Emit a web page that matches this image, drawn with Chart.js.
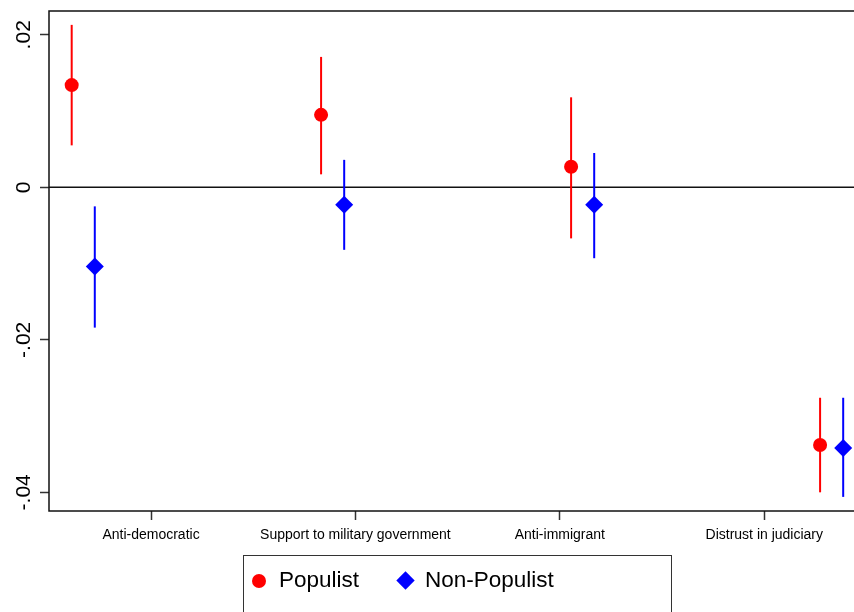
<!DOCTYPE html>
<html>
<head>
<meta charset="utf-8">
<script src="https://cdn.jsdelivr.net/npm/chart.js@4/dist/chart.umd.min.js"></script>
<style>
  html, body { margin: 0; padding: 0; background: #fff; }
  #wrap { position: relative; width: 854px; height: 612px; overflow: hidden; }
  #legend {
    position: absolute; left: 243px; top: 555px; width: 429px; height: 80px;
    border: 1.5px solid #333; box-sizing: border-box;
    font-family: "Liberation Sans", Arial, sans-serif; font-size: 22.5px; color: #000;
  }
  #legend span { position: absolute; top: 11px; }
  .dot { position: absolute; top: 18px; left: 8px; width: 14px; height: 14px; border-radius: 50%; background: #ff0000; }
  .dia { position: absolute; top: 18px; left: 155px; width: 13px; height: 13px; background: #0000ff; transform: rotate(45deg); }
</style>
</head>
<body>
<div id="wrap">
  <canvas id="chart" width="854" height="612"></canvas>
  <div id="legend">
    <div class="dot"></div><span style="left:35px">Populist</span>
    <div class="dia"></div><span style="left:181px">Non-Populist</span>
  </div>
</div>
<script>
var categories = ['Anti-democratic', 'Support to military government', 'Anti-immigrant', 'Distrust in judiciary'];
var categoryTicks = [1, 2, 3, 4];

var popX = [0.612, 1.832, 3.055, 4.273];
var popCoef = [0.0134, 0.0095, 0.0027, -0.0338];
var popLo = [0.0055, 0.0017, -0.0067, -0.0400];
var popHi = [0.0213, 0.0171, 0.0118, -0.0276];

var nonX = [0.725, 1.945, 3.168, 4.386];
var nonCoef = [-0.0104, -0.0023, -0.0023, -0.0342];
var nonLo = [-0.0184, -0.0082, -0.0093, -0.0406];
var nonHi = [-0.0025, 0.0036, 0.0045, -0.0276];

var yTicks = [-0.04, -0.02, 0, 0.02];
var yTickLabels = ['-.04', '-.02', '0', '.02'];

function points(xs, ys, lo, hi) {
  var out = [];
  for (var i = 0; i < xs.length; i++) {
    out.push({ x: xs[i], y: ys[i], lo: lo[i], hi: hi[i] });
  }
  return out;
}

// vertical CI lines, drawn under the markers
var errorBars = {
  id: 'errorBars',
  beforeDatasetsDraw: function(chart) {
    var ctx = chart.ctx;
    var xs = chart.scales.x, ys = chart.scales.y;
    chart.data.datasets.forEach(function(ds) {
      ctx.save();
      ctx.strokeStyle = ds.borderColor;
      ctx.lineWidth = 2;
      ds.data.forEach(function(p) {
        var px = xs.getPixelForValue(p.x);
        ctx.beginPath();
        ctx.moveTo(px, ys.getPixelForValue(p.hi));
        ctx.lineTo(px, ys.getPixelForValue(p.lo));
        ctx.stroke();
      });
      ctx.restore();
    });
  }
};

// frame, zero line and rotated y labels
var frame = {
  id: 'frame',
  beforeDatasetsDraw: function(chart) {
    var ctx = chart.ctx, a = chart.chartArea, ys = chart.scales.y;
    ctx.save();
    ctx.strokeStyle = '#111';
    ctx.lineWidth = 1.5;
    ctx.strokeRect(a.left, a.top, a.right - a.left + 10, a.bottom - a.top);
    var y0 = ys.getPixelForValue(0);
    ctx.beginPath();
    ctx.moveTo(a.left, y0);
    ctx.lineTo(a.right + 5, y0);
    ctx.stroke();
    ctx.restore();
  },
  afterDraw: function(chart) {
    var ctx = chart.ctx, ys = chart.scales.y;
    ctx.save();
    ctx.fillStyle = '#000';
    ctx.font = '21px "Liberation Sans", Arial, sans-serif';
    ctx.textAlign = 'center';
    ctx.textBaseline = 'middle';
    for (var i = 0; i < yTicks.length; i++) {
      ctx.save();
      ctx.translate(24, ys.getPixelForValue(yTicks[i]));
      ctx.rotate(-Math.PI / 2);
      ctx.fillText(yTickLabels[i], 0, 0);
      ctx.restore();
    }
    ctx.restore();
  }
};

new Chart(document.getElementById('chart'), {
  type: 'scatter',
  data: {
    datasets: [
      {
        label: 'Populist',
        data: points(popX, popCoef, popLo, popHi),
        backgroundColor: '#ff0000',
        borderColor: '#ff0000',
        pointStyle: 'circle',
        pointRadius: 7,
        pointBorderWidth: 0
      },
      {
        label: 'Non-Populist',
        data: points(nonX, nonCoef, nonLo, nonHi),
        backgroundColor: '#0000ff',
        borderColor: '#0000ff',
        pointStyle: 'rectRot',
        pointRadius: 9,
        pointBorderWidth: 0
      }
    ]
  },
  options: {
    responsive: false,
    animation: false,
    layout: { autoPadding: false, padding: { top: 11, right: 1, left: 0, bottom: 0 } },
    plugins: { legend: { display: false }, tooltip: { enabled: false } },
    scales: {
      x: {
        type: 'linear',
        min: 0.501,
        max: 4.434,
        afterBuildTicks: function(scale) {
          scale.ticks = categoryTicks.map(function(v) { return { value: v }; });
        },
        afterFit: function(scale) {
          scale.height = 101;
          scale.paddingLeft = 0;
          scale.paddingRight = 0;
        },
        grid: { drawOnChartArea: false, tickLength: 9, tickColor: '#333', tickWidth: 1.5 },
        border: { display: false },
        ticks: {
          color: '#000',
          padding: 7,
          maxRotation: 0,
          font: { family: '"Liberation Sans", Arial, sans-serif', size: 14 },
          callback: function(v) { return categories[categoryTicks.indexOf(v)] || ''; }
        }
      },
      y: {
        min: -0.04245,
        max: 0.02312,
        afterBuildTicks: function(scale) {
          scale.ticks = yTicks.map(function(v) { return { value: v }; });
        },
        afterFit: function(scale) { scale.width = 49; },
        grid: { drawOnChartArea: false, tickLength: 9, tickColor: '#333', tickWidth: 1.5 },
        border: { display: false },
        ticks: { display: false }
      }
    }
  },
  plugins: [frame, errorBars]
});
</script>
</body>
</html>
